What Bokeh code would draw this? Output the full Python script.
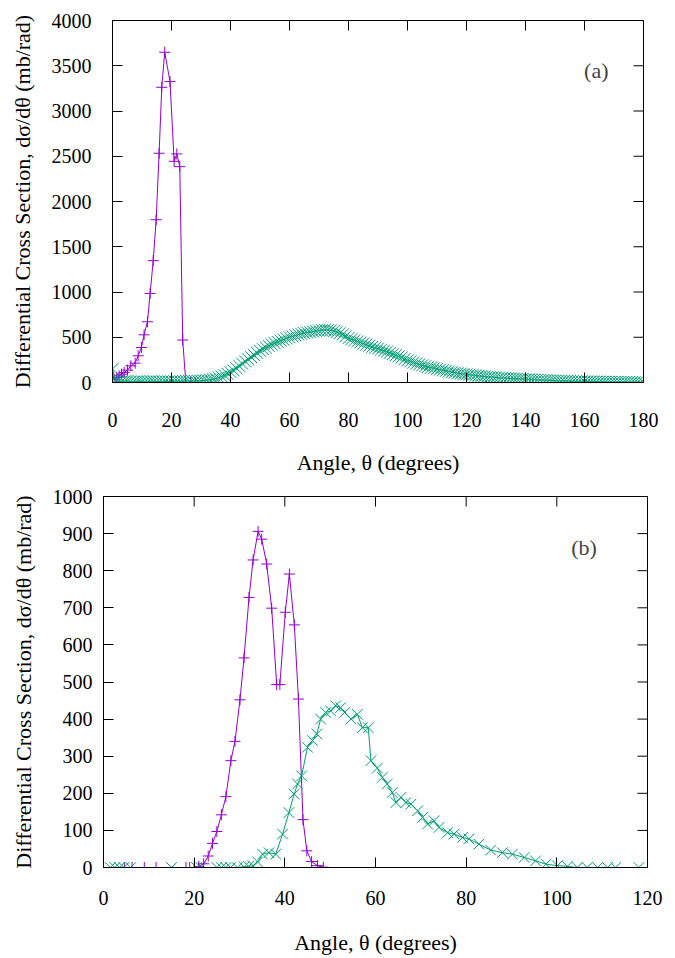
from bokeh.plotting import figure
from bokeh.models import Range1d, Label, FixedTicker
from bokeh.layouts import column
from bokeh.embed import file_html
from bokeh.resources import INLINE

FONT = "Liberation Serif"
TICK_FS = "20px"
TITLE_FS = "22px"
PURPLE = "#9400D3"
GREEN = "#009E73"

# ---------------- panel (a) data ----------------
a_x_ticks = [0, 20, 40, 60, 80, 100, 120, 140, 160, 180]
a_y_ticks = [0, 500, 1000, 1500, 2000, 2500, 3000, 3500, 4000]

a_purple_x = [0.56, 1.46, 2.25, 3.05, 3.95, 5.08, 6.2, 7.67, 8.7, 9.8, 10.7, 11.85,
              12.75, 13.8, 14.8, 15.8, 16.7, 17.7, 19.5, 20.9, 21.8, 22.8, 23.8,
              24.85, 26.5, 28.2]
a_purple_y = [37, 55, 74, 92, 111, 137, 184, 214, 295, 387, 527, 671,
              984, 1346, 1799, 2533, 3262, 3649, 3325, 2444, 2526, 2385, 469,
              0, 0, 0]

a_green_x = list(range(0, 181))
a_green_y = [
    150, 15, 12, 10, 12, 14, 10, 8, 10, 12,
    11, 9, 10, 12, 11, 9, 10, 11, 12, 10,
    11, 12, 13, 12, 14, 15, 14, 16, 17, 18,
    20, 22, 25, 30, 36, 44, 54, 66, 80, 96,
    115, 135, 158, 182, 207, 232, 256, 280, 303, 327,
    350, 368, 386, 403, 419, 434, 448, 461, 473, 488,
    500, 510, 520, 530, 538, 545, 552, 558, 563, 568,
    574, 578, 582, 580, 576, 568, 558, 545, 530, 511,
    490, 478, 466, 454, 442, 430, 418, 406, 394, 384,
    374, 362, 351, 340, 327, 314, 301, 288, 275, 258,
    245, 234, 222, 211, 200, 190, 180, 172, 165, 157,
    150, 142, 135, 128, 121, 114, 108, 102, 97, 93,
    90, 86, 82, 78, 74, 70, 67, 64, 61, 58,
    56, 53, 51, 48, 46, 44, 42, 41, 39, 38,
    37, 35, 33, 31, 29, 27, 26, 24, 23, 22,
    20, 19, 18, 17, 16, 15, 14, 13, 13, 12,
    11, 11, 10, 10, 9, 9, 8, 8, 7, 7,
    6, 6, 6, 5, 5, 5, 4, 4, 4, 3, 3,
]

# ---------------- panel (b) data ----------------
b_x_ticks = [0, 20, 40, 60, 80, 100, 120]
b_y_ticks = [0, 100, 200, 300, 400, 500, 600, 700, 800, 900, 1000]

b_purple_x = [4.6, 6.3, 9.0, 11.6, 18.2, 19.0, 20.0, 21.0, 22.1, 23.1, 24.05, 25.0,
              26.0, 27.0, 28.1, 29.0, 30.1, 31.0, 32.1, 33.0, 34.1, 34.9, 36.0,
              37.1, 38.2, 38.9, 40.1, 41.0, 42.1, 43.0, 44.0, 44.85, 45.9, 47.2, 48.5]
b_purple_y = [0, 0, 0, 0, 0, 0, 0, 3, 10, 31, 65, 97,
              142, 191, 288, 340, 452, 565, 728, 829, 906, 885, 818,
              699, 493, 493, 688, 791, 654, 454, 129, 45, 16, 5, 1]

b_green_x = [1.5, 2.5, 3.5, 4.5, 6.0, 15.0, 20.5, 21.5, 25.0, 26.0, 27.0, 28.0, 29.5,
             31.0, 32.0, 33.0, 34.0, 35.1, 36.5, 38.0, 39.5, 40.9, 42.05, 42.8, 43.7,
             45.0, 46.1, 47.05, 47.9, 49.0, 50.1, 51.2, 52.3, 53.2, 54.6, 56.0, 57.1,
             58.4, 59.0, 60.4, 61.5, 62.6, 63.7, 64.5, 65.6, 66.7, 67.8, 69.3, 70.4,
             71.5, 72.9, 74.0, 75.9, 77.3, 79.2, 80.6, 82.8, 85.4, 88.0, 90.2, 92.8,
             95.3, 97.6, 100.1, 102.3, 104.5, 106.7, 109.0, 111.2, 113.0, 118.1]
b_green_y = [0, 0, 0, 0, 0, 0, 0, 0, 0, 0, 0, 0, 0,
             2, 3, 5, 15, 36, 40, 36, 90, 148, 198, 225, 247,
             324, 342, 360, 400, 418, 422, 436, 431, 418, 400, 413, 377,
             377, 288, 268, 243, 225, 202, 175, 189, 175, 171, 153, 135,
             117, 126, 108, 94, 90, 81, 77, 63, 47, 40, 36, 27,
             18, 9, 5, 3, 0, 0, 0, 0, 0, 0]

XLABEL = "Angle, \u03b8 (degrees)"
YLABEL = "Differential Cross Section, d\u03c3/d\u03b8 (mb/rad)"
TICK_LEN = 10


def style_axis(ax, ticks):
    ax.ticker = FixedTicker(ticks=ticks)
    ax.axis_line_color = "black"
    ax.axis_line_width = 1
    ax.major_tick_line_color = "black"
    ax.major_tick_in = TICK_LEN
    ax.major_tick_out = 0
    ax.minor_tick_in = 0
    ax.minor_tick_out = 0
    ax.minor_tick_line_color = None
    ax.major_label_text_font = FONT
    ax.major_label_text_font_size = TICK_FS
    ax.major_label_text_color = "black"
    ax.axis_label_text_font = FONT
    ax.axis_label_text_font_style = "normal"
    ax.axis_label_text_font_size = TITLE_FS
    ax.axis_label_text_color = "black"


def make_panel(width, height, xr, yr, xt, yt, borders, xstand, ystand, xlab_stand, ylab_stand):
    left, right, top, bottom = borders
    p = figure(width=width, height=height, x_range=Range1d(*xr), y_range=Range1d(*yr),
               output_backend="svg", toolbar_location=None, frame_align=False,
               min_border_left=left, min_border_right=right,
               min_border_top=top, min_border_bottom=bottom)
    p.xgrid.visible = False
    p.ygrid.visible = False
    p.outline_line_color = "black"
    p.outline_line_width = 1
    p.background_fill_color = "white"
    p.border_fill_color = "white"
    style_axis(p.xaxis[0], xt)
    style_axis(p.yaxis[0], yt)
    p.xaxis[0].axis_label = XLABEL
    p.yaxis[0].axis_label = YLABEL
    p.xaxis[0].major_label_standoff = xstand
    p.yaxis[0].major_label_standoff = ystand
    p.xaxis[0].axis_label_standoff = xlab_stand
    p.yaxis[0].axis_label_standoff = ylab_stand
    # mirrored inward ticks on the top and right edges of the frame (from the tick lists)
    fw = width - left - right
    fh = height - top - bottom
    dy = (yr[1] - yr[0]) * TICK_LEN / fh
    dx = (xr[1] - xr[0]) * TICK_LEN / fw
    p.segment(x0=xt, y0=[yr[1]] * len(xt), x1=xt, y1=[yr[1] - dy] * len(xt),
              line_color="black", line_width=1)
    p.segment(x0=[xr[1]] * len(yt), y0=yt, x1=[xr[1] - dx] * len(yt), y1=yt,
              line_color="black", line_width=1)
    return p


p1 = make_panel(675, 480, (0, 180), (0, 4000), a_x_ticks, a_y_ticks,
                (112, 32, 20, 98), 30, 21, 20, 14)
p1.line(a_purple_x, a_purple_y, line_color=PURPLE, line_width=1)
p1.scatter(a_purple_x, a_purple_y, marker="cross", size=11, line_color=PURPLE, line_width=1)
p1.line(a_green_x, a_green_y, line_color=GREEN, line_width=1)
p1.scatter(a_green_x, a_green_y, marker="x", size=17, line_color=GREEN, line_width=1)
p1.add_layout(Label(x=164, y=3450, text="(a)", text_font=FONT, text_font_size=TITLE_FS,
                    text_align="center", text_baseline="middle"))

p2 = make_panel(675, 478, (0, 120), (0, 1000), b_x_ticks, b_y_ticks,
                (103, 28, 16, 91), 23, 11, 22, 14)
p2.line(b_purple_x, b_purple_y, line_color=PURPLE, line_width=1)
p2.scatter(b_purple_x, b_purple_y, marker="cross", size=11, line_color=PURPLE, line_width=1)
p2.line(b_green_x, b_green_y, line_color=GREEN, line_width=1)
p2.scatter(b_green_x, b_green_y, marker="x", size=15, line_color=GREEN, line_width=1)
p2.add_layout(Label(x=106, y=862, text="(b)", text_font=FONT, text_font_size=TITLE_FS,
                    text_align="center", text_baseline="middle"))

layout = column(p1, p2, spacing=0)
open("out.html", "w").write(file_html(layout, INLINE))
